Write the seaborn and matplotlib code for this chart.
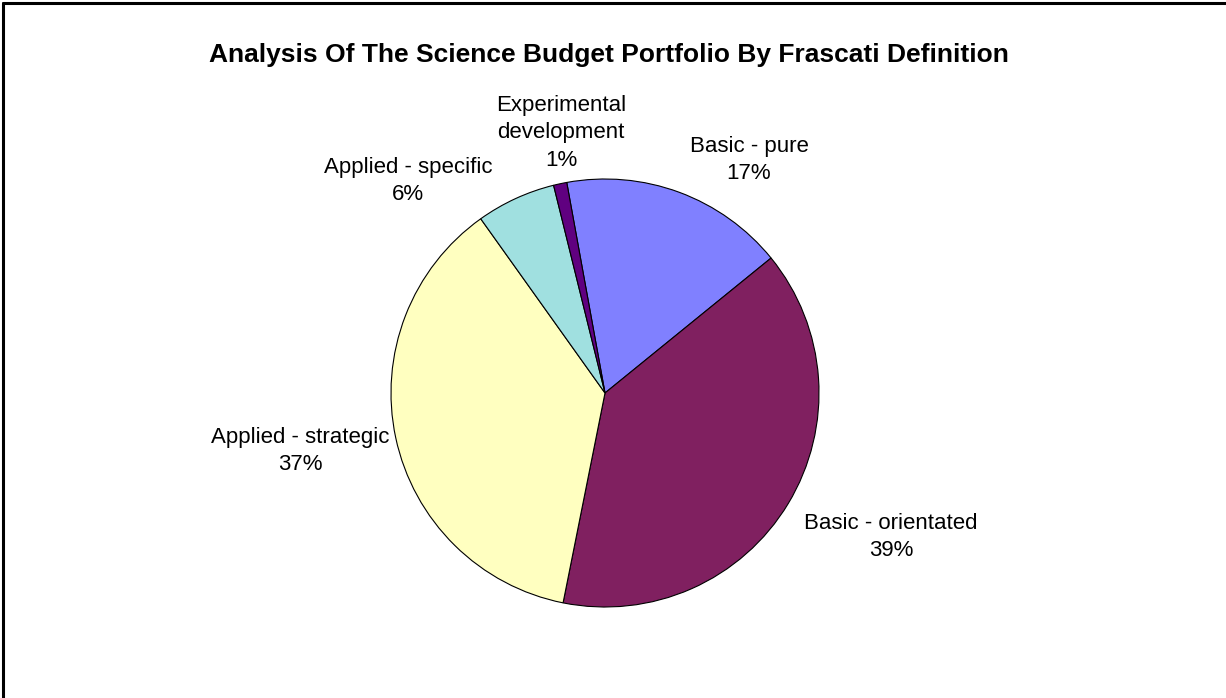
import matplotlib
matplotlib.use("Agg")
import matplotlib.pyplot as plt
import seaborn as sns
from matplotlib.lines import Line2D

# ---- data ----
categories = ["Basic - pure", "Basic - orientated", "Applied - strategic",
              "Applied - specific", "Experimental\ndevelopment"]
values = [17, 39, 37, 6, 1]
colors = ["#8080FF", "#802060", "#FFFFC0", "#A0E0E0", "#600080"]
title = "Analysis Of The Science Budget Portfolio By Frascati Definition"

# ---- layout (label centres, in pie-radius units) ----
label_pos = [(0.673, 1.089), (1.336, -0.673), (-1.425, -0.271),
             (-0.921, 0.991), (-0.206, 1.215)]

sns.set_theme(style="white")
plt.rcParams['font.family'] = ['Liberation Sans', 'DejaVu Sans']

W, H, DPI = 1226, 698, 100
fig = plt.figure(figsize=(W / DPI, H / DPI), dpi=DPI)
fig.patch.set_facecolor("white")
ax = fig.add_axes([0, 0, 1, 1])

cx, cy, R = 605, 393, 214  # pixel centre and radius
total = sum(values)
labels = [f"{c}\n{round(v / total * 100)}%" for c, v in zip(categories, values)]

wedges, texts = ax.pie(values, colors=colors, startangle=100.3, counterclock=False,
                       labels=labels, radius=1.0,
                       wedgeprops=dict(edgecolor="black", linewidth=0.8),
                       textprops=dict(fontsize=16, color="black", ha="center",
                                      va="center", linespacing=1.4))
for t, (x, y) in zip(texts, label_pos):
    t.set_position((x, y))
    t.set_ha("center")
    t.set_va("center")
    t.set_multialignment("center")

ax.set_xlim(-cx / R, (W - cx) / R)
ax.set_ylim((cy - H) / R, cy / R)
ax.set_aspect("equal")
ax.axis("off")

fig.text(609 / W, 1 - 55 / H, title, ha="center", va="center",
         fontsize=19, fontweight="bold", color="black")

# frame lines (top and left)
fig.add_artist(Line2D([3 / W, 3 / W], [0, 1 - 3 / H], color="black", linewidth=2.2,
                      transform=fig.transFigure))
fig.add_artist(Line2D([3 / W, 1], [1 - 3 / H, 1 - 3 / H], color="black", linewidth=2.2,
                      transform=fig.transFigure))

fig.savefig("out.png", dpi=DPI, facecolor="white")
